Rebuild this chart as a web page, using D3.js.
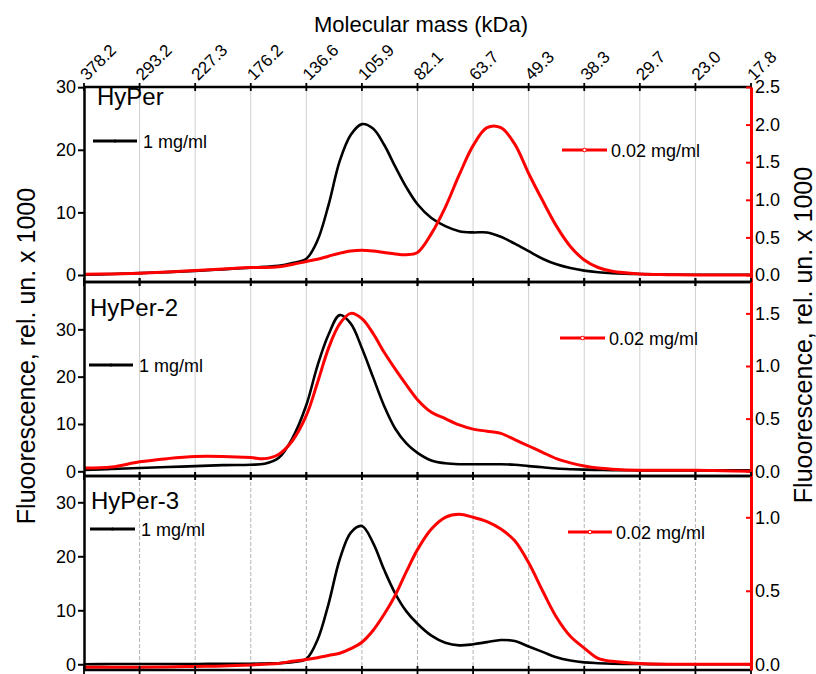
<!DOCTYPE html>
<html>
<head>
<meta charset="utf-8">
<script src="https://cdn.jsdelivr.net/npm/d3@7"></script>
<style>
body { margin: 0; background: #fff; }
svg { font-family: Arial, "Liberation Sans", sans-serif; }
</style>
</head>
<body>
<svg id="canvas" width="816" height="674"></svg>
<script>
// Tick labels of the top axis (molecular mass, kDa), one per elution step
const massLabels = ['378.2', '293.2', '227.3', '176.2', '136.6', '105.9', '82.1',
    '63.7', '49.3', '38.3', '29.7', '23.0', '17.8']

// Elution position, in steps of the mass axis
const elution = [0, 0.5, 1, 1.5, 2, 2.5, 3, 3.25, 3.5, 3.75, 4, 4.2, 4.4, 4.6, 4.8, 5,
    5.2, 5.4, 5.6, 5.8, 6, 6.25, 6.5, 6.75, 7, 7.25, 7.5, 7.75, 8, 8.25, 8.5, 8.75, 9,
    9.25, 9.5, 10, 10.5, 11, 11.5, 12]

// HyPer
const hyper1 = [0.05, 0.15, 0.3, 0.45, 0.65, 0.9, 1.15, 1.3, 1.45, 1.9, 2.6, 5.5, 11.2, 18.2,
    22.4, 24.1, 23.4, 20.8, 17.3, 14, 11.3, 9.1, 7.8, 7.0, 6.8, 6.8, 6.1, 5.0, 3.8, 2.6,
    1.7, 1.1, 0.7, 0.45, 0.3, 0.15, 0.08, 0.05, 0.05, 0.05]
const hyper002 = [0.01, 0.015, 0.025, 0.04, 0.06, 0.08, 0.1, 0.1, 0.11, 0.14, 0.18, 0.21,
    0.25, 0.29, 0.32, 0.33, 0.32, 0.3, 0.28, 0.27, 0.3, 0.55, 0.9, 1.33, 1.72, 1.96, 1.96,
    1.74, 1.35, 0.99, 0.65, 0.38, 0.2, 0.1, 0.05, 0.015, 0.005, 0, 0, 0]

// HyPer-2
const hyper2_1 = [0.3, 0.5, 0.7, 0.9, 1.1, 1.3, 1.4, 1.6, 2.8, 7.0, 14, 22.3, 28.9, 33,
    31.2, 26, 19.9, 13.8, 9.0, 5.9, 3.9, 2.3, 1.7, 1.5, 1.5, 1.5, 1.5, 1.4, 1.1, 0.85,
    0.6, 0.45, 0.35, 0.3, 0.25, 0.2, 0.2, 0.2, 0.2, 0.2]
const hyper2_002 = [0.03, 0.04, 0.09, 0.12, 0.14, 0.14, 0.13, 0.12, 0.16, 0.29, 0.53, 0.84,
    1.17, 1.4, 1.5, 1.45, 1.31, 1.13, 0.97, 0.82, 0.68, 0.56, 0.5, 0.44, 0.4, 0.38, 0.36,
    0.3, 0.24, 0.18, 0.12, 0.08, 0.05, 0.03, 0.02, 0.01, 0.01, 0.01, 0.005, 0]

// HyPer-3
const hyper3_1 = [0, 0.05, 0.05, 0.05, 0.05, 0.1, 0.1, 0.15, 0.2, 0.4, 1.0, 4.5, 11.2, 19.4,
    24.4, 25.6, 22.5, 17.5, 13.1, 9.8, 7.5, 5.3, 4.0, 3.5, 3.7, 4.1, 4.5, 4.3, 3.3, 2.3,
    1.3, 0.7, 0.35, 0.2, 0.1, 0.05, 0, 0, 0, 0]
const hyper3_002 = [-0.02, -0.02, -0.02, -0.018, -0.015, -0.012, -0.005, 0, 0.006, 0.02,
    0.033, 0.045, 0.06, 0.075, 0.106, 0.15, 0.23, 0.34, 0.47, 0.63, 0.78, 0.92, 1.0, 1.02,
    1.0, 0.97, 0.92, 0.84, 0.69, 0.5, 0.32, 0.19, 0.11, 0.04, 0.02, 0.005, 0, 0, 0, 0]

const leftTicks = [0, 10, 20, 30]
const rightTicks1 = [0, 0.5, 1, 1.5, 2, 2.5]
const rightTicks2 = [0, 0.5, 1, 1.5]
const rightTicks3 = [0, 0.5, 1]

// Panel layout
const panels = [
    { name: 'HyPer', black: hyper1, red: hyper002, top: 87, bottom: 282,
      left: [-1.12, 30.03], right: [-0.093, 2.5], rTicks: rightTicks1, dashed: false,
      label: [97, 105], legBlack: [93, 137, 141], legRed: [562, 607, 150] },
    { name: 'HyPer-2', black: hyper2_1, red: hyper2_002, top: 282, bottom: 476,
      left: [-0.99, 40.0], right: [-0.045, 1.798], rTicks: rightTicks2, dashed: false,
      label: [90, 316], legBlack: [89, 133, 365], legRed: [560, 605, 338] },
    { name: 'HyPer-3', black: hyper3_1, red: hyper3_002, top: 476, bottom: 670,
      left: [-1.06, 34.87], right: [-0.039, 1.281], rTicks: rightTicks3, dashed: true,
      label: [91, 509], legBlack: [90, 135, 529], legRed: [568, 612, 532] }
]

const svg = d3.select('#canvas')
const x = d3.scaleLinear().domain([0, 12]).range([84, 751])
const steps = d3.range(13)

// Title
svg.append('text')
    .attr('x', 421).attr('y', 32)
    .attr('text-anchor', 'middle')
    .style('font-size', '22px')
    .text('Molecular mass (kDa)')

panels.forEach((p, i) => {
    const yL = d3.scaleLinear().domain(p.left).range([p.bottom, p.top])
    const yR = d3.scaleLinear().domain(p.right).range([p.bottom, p.top])
    const g = svg.append('g')

    // Grid
    g.append('g').selectAll('line')
        .data(steps.slice(1, 12))
        .enter().append('line')
            .attr('x1', d => x(d)).attr('x2', d => x(d))
            .attr('y1', p.top).attr('y2', p.bottom)
            .attr('stroke', p.dashed ? '#b4b4b4' : '#cfcfcf')
            .attr('stroke-width', 1)
            .attr('stroke-dasharray', p.dashed ? '4,2' : null)

    // Curves
    const clipId = 'clip' + i
    svg.append('clipPath').attr('id', clipId)
        .append('rect')
            .attr('x', x(0)).attr('y', p.top)
            .attr('width', x(12) - x(0)).attr('height', p.bottom - p.top)

    const lineL = d3.line().x((d, j) => x(elution[j])).y(d => yL(d)).curve(d3.curveCatmullRom.alpha(0.5))
    const lineR = d3.line().x((d, j) => x(elution[j])).y(d => yR(d)).curve(d3.curveCatmullRom.alpha(0.5))

    g.append('path').datum(p.black)
        .attr('clip-path', `url(#${clipId})`)
        .attr('d', lineL)
        .attr('fill', 'none').attr('stroke', '#000').attr('stroke-width', 2.6)
    g.append('path').datum(p.red)
        .attr('clip-path', `url(#${clipId})`)
        .attr('d', lineR)
        .attr('fill', 'none').attr('stroke', '#ff0000').attr('stroke-width', 3)

    // Top and bottom borders with crossing ticks
    ;[p.top, p.bottom].forEach(yy => {
        g.append('line')
            .attr('x1', x(0)).attr('x2', x(12)).attr('y1', yy).attr('y2', yy)
            .attr('stroke', '#000').attr('stroke-width', 2.5)
        g.append('g').selectAll('line')
            .data(steps)
            .enter().append('line')
                .attr('x1', d => x(d)).attr('x2', d => x(d))
                .attr('y1', yy - 4).attr('y2', yy + 4)
                .attr('stroke', '#000').attr('stroke-width', 1.8)
    })

    // Left axis
    g.append('g')
        .attr('transform', `translate(${x(0)},0)`)
        .call(d3.axisLeft(yL).tickValues(leftTicks).tickSize(6).tickSizeOuter(0).tickPadding(2))
        .call(a => a.select('.domain').attr('stroke-width', 2.5))
        .call(a => a.selectAll('.tick line').attr('stroke-width', 2))
        .call(a => a.selectAll('.tick text').style('font-size', '18px').attr('fill', '#000'))
        .attr('font-family', null)

    // Right axis
    g.append('g')
        .attr('transform', `translate(${x(12)},0)`)
        .call(d3.axisRight(yR).tickValues(p.rTicks).tickFormat(d3.format('.1f'))
            .tickSize(-5).tickSizeOuter(0).tickPadding(4))
        .call(a => a.select('.domain').attr('stroke', '#ff0000').attr('stroke-width', 3))
        .call(a => a.selectAll('.tick line').attr('stroke', '#ff0000').attr('stroke-width', 2))
        .call(a => a.selectAll('.tick text').style('font-size', '18px').attr('fill', '#000'))
        .attr('font-family', null)

    // Panel label
    g.append('text')
        .attr('x', p.label[0]).attr('y', p.label[1])
        .style('font-size', '24px')
        .text(p.name)

    // Legends
    const lb = p.legBlack, lr = p.legRed
    g.append('line')
        .attr('x1', lb[0]).attr('x2', lb[1]).attr('y1', lb[2]).attr('y2', lb[2])
        .attr('stroke', '#000').attr('stroke-width', 3)
    g.append('circle')
        .attr('cx', (lb[0] + lb[1]) / 2).attr('cy', lb[2]).attr('r', 1.6)
        .attr('fill', '#000')
    g.append('text')
        .attr('x', lb[1] + 6).attr('y', lb[2] + 6.5)
        .style('font-size', '18px')
        .text('1 mg/ml')

    g.append('line')
        .attr('x1', lr[0]).attr('x2', lr[1]).attr('y1', lr[2]).attr('y2', lr[2])
        .attr('stroke', '#ff0000').attr('stroke-width', 3)
    g.append('circle')
        .attr('cx', (lr[0] + lr[1]) / 2).attr('cy', lr[2]).attr('r', 1.8)
        .attr('fill', '#fff').attr('stroke', '#ff0000').attr('stroke-width', 1)
    g.append('text')
        .attr('x', lr[1] + 4).attr('y', lr[2] + 6.5)
        .style('font-size', '18px')
        .text('0.02 mg/ml')
})

// Top mass axis labels
svg.append('g').selectAll('text')
    .data(steps)
    .enter().append('text')
        .attr('transform', d => `translate(${x(d) + 6},${panels[0].top}) rotate(-45)`)
        .attr('x', 2).attr('y', -6)
        .style('font-size', '17px')
        .text(d => massLabels[d])

// Y axis titles
svg.append('text')
    .attr('transform', 'translate(35,356) rotate(-90)')
    .attr('text-anchor', 'middle')
    .style('font-size', '25px')
    .text('Fluoorescence, rel. un. x 1000')

svg.append('text')
    .attr('transform', 'translate(812,335) rotate(-90)')
    .attr('text-anchor', 'middle')
    .style('font-size', '25px')
    .text('Fluoorescence, rel. un. x 1000')
</script>
</body>
</html>
